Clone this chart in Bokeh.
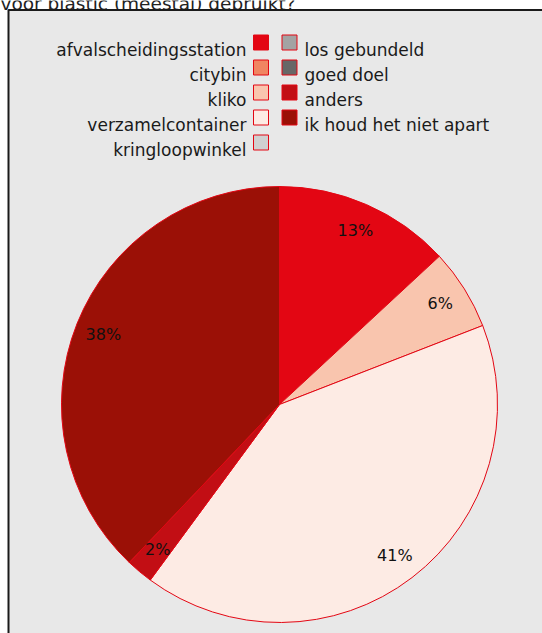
import math
from bokeh.plotting import figure
from bokeh.models import Range1d, ColumnDataSource
from bokeh.core.properties import value
from bokeh.embed import file_html
from bokeh.resources import INLINE

# ---- data ----
title_text = "voor plastic (meestal) gebruikt?"
categories = ["afvalscheidingsstation", "citybin", "kliko", "verzamelcontainer",
              "kringloopwinkel", "los gebundeld", "goed doel", "anders",
              "ik houd het niet apart"]
shares = [13.1, 0.0, 6.0, 41.0, 0.0, 0.0, 0.0, 2.0, 37.9]
colors = ["#e30613", "#f08562", "#f9c5ae", "#fdebe4", "#d0d0d0",
          "#a3a3a3", "#676767", "#c20e14", "#9b1006"]

# ---- layout: coordinates in page pixels ----
W, H = 542, 633
FONT = value("DejaVu Sans")
def X(xpage):
    return xpage
def Y(ypage):
    return H - ypage

p = figure(width=W, height=H, x_range=Range1d(0, W), y_range=Range1d(0, H),
           output_backend="svg", toolbar_location=None, min_border=0,
           x_axis_location=None, y_axis_location=None)
p.grid.visible = False
p.outline_line_color = None
p.background_fill_color = "white"
p.border_fill_color = "white"

# title (cut off at the top, as in the reference)
p.text(x=[X(0)], y=[Y(3)], text=[title_text], text_font=FONT, text_font_size="18.5px",
       text_color="#222222", text_align="left", text_baseline="alphabetic")

# panel
p.quad(left=[X(8)], right=[W + 20], top=[Y(9.5)], bottom=[-20],
       fill_color="#e8e8e8", line_color="#1a1a1a", line_width=2)

# pie
cx, cy, r = X(279), Y(404), 218
total = sum(shares)
starts, ends, wcols, lx, ly, ltxt = [], [], [], [], [], []
cum = 0.0
for s, c in zip(shares, colors):
    if s > 0:
        a0 = math.pi / 2 - 2 * math.pi * cum / total
        a1 = math.pi / 2 - 2 * math.pi * (cum + s) / total
        starts.append(a0); ends.append(a1); wcols.append(c)
        mid = (a0 + a1) / 2
        lx.append(cx + 0.87 * r * math.cos(mid))
        ly.append(cy + 0.87 * r * math.sin(mid))
        ltxt.append(f"{round(s / total * 100)}%")
    cum += s

src = ColumnDataSource(dict(start=starts, end=ends, color=wcols))
p.wedge(x=cx, y=cy, radius=r, start_angle="start", end_angle="end",
        direction="clock", fill_color="color", line_color="#e30613",
        line_width=1, source=src)
p.text(x=lx, y=ly, text=ltxt, text_font=FONT, text_font_size="16px",
       text_color="#111111", text_align="center", text_baseline="middle")

# legend
rows = [42, 67, 92, 117, 142]
left_n = 5
lsx, lsy, lcol = [], [], []
ltx, lty, lt = [], [], []
rtx, rty, rt = [], [], []
for i, (name, c) in enumerate(zip(categories, colors)):
    if i < left_n:
        row = rows[i]
        lsx.append(X(260.5)); lsy.append(Y(row)); lcol.append(c)
        ltx.append(X(246)); lty.append(Y(row + 7)); lt.append(name)
    else:
        row = rows[i - left_n]
        lsx.append(X(289)); lsy.append(Y(row)); lcol.append(c)
        rtx.append(X(304)); rty.append(Y(row + 7)); rt.append(name)

p.rect(x=lsx, y=lsy, width=15, height=15, fill_color=lcol,
       line_color="#e30613", line_width=1)
p.text(x=ltx, y=lty, text=lt, text_font=FONT, text_font_size="17px",
       text_color="#1a1a1a", text_align="right", text_baseline="alphabetic")
p.text(x=rtx, y=rty, text=rt, text_font=FONT, text_font_size="17px",
       text_color="#1a1a1a", text_align="left", text_baseline="alphabetic")

open("out.html", "w").write(file_html(p, INLINE))
